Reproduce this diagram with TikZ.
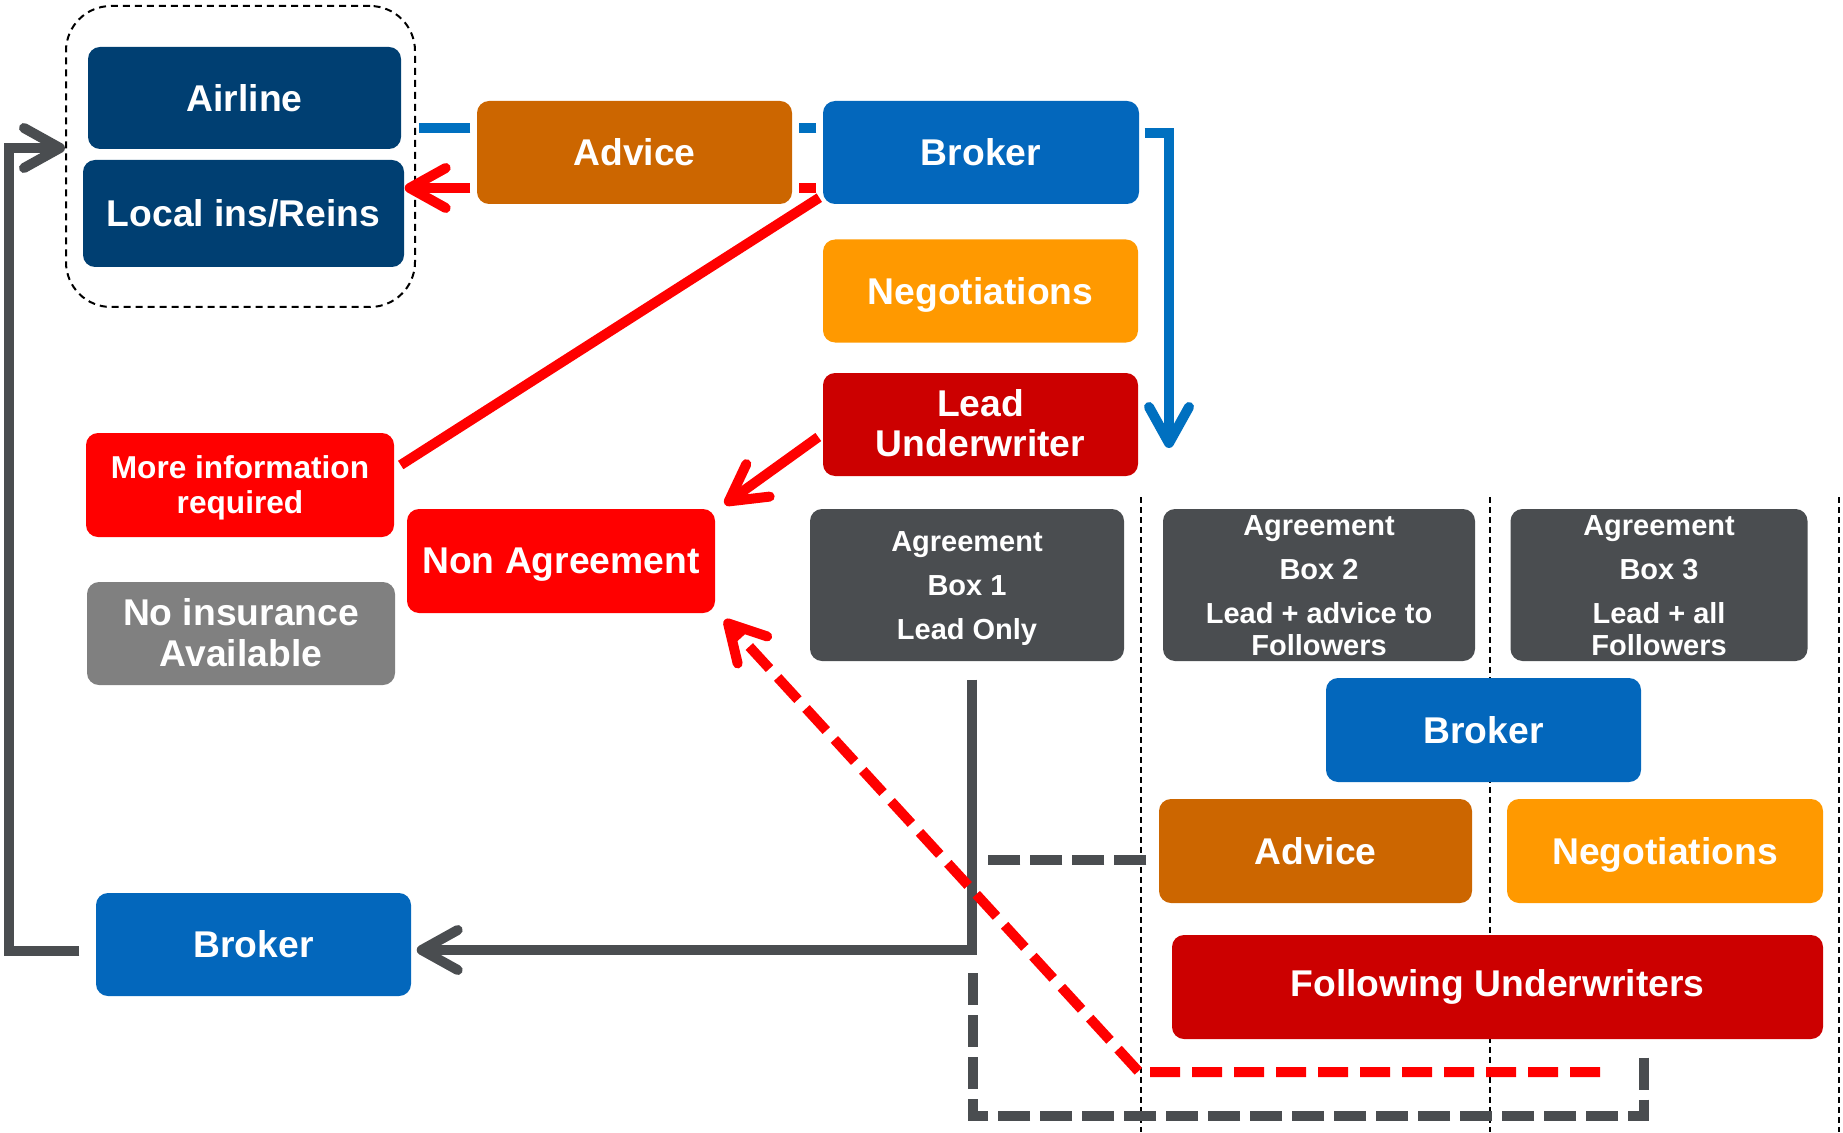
\documentclass[tikz,border=0pt]{standalone}
\usepackage{fontspec}
\setmainfont{Liberation Sans}
\usetikzlibrary{arrows.meta}

\definecolor{navy}{RGB}{0,63,114}
\definecolor{brokerblue}{RGB}{3,103,188}
\definecolor{lineblue}{RGB}{0,112,192}
\definecolor{advicebrown}{RGB}{204,102,0}
\definecolor{negoorange}{RGB}{255,153,0}
\definecolor{leadred}{RGB}{204,0,0}
\definecolor{alertred}{RGB}{255,0,0}
\definecolor{slate}{RGB}{74,77,80}
\definecolor{midgray}{RGB}{128,128,128}

\newcommand{\stacked}[1]{\raisebox{-1.2pt}[\height][\depth]{\begin{tabular}{c}#1\end{tabular}}}

\tikzset{
	box/.style={rounded corners=0.12cm, text=white, inner sep=0pt, minimum width=3.15cm, minimum height=1.03cm, font=\bfseries\fontsize{10.6}{11.4}\selectfont},
	agreebox/.style={box, fill=slate, minimum width=3.14cm, minimum height=1.52cm, font=\bfseries\fontsize{8.25}{9.1}\selectfont},
	separator/.style={draw=black, line width=0.02cm, dash pattern=on 0.06cm off 0.04cm},
	groupline/.style={draw=black, line width=0.02cm, dash pattern=on 0.07cm off 0.05cm},
	blueflow/.style={draw=lineblue, line width=0.1cm},
	redflow/.style={draw=alertred, line width=0.1cm},
	grayflow/.style={draw=slate, line width=0.1cm},
	reddash/.style={redflow, dash pattern=on 0.3cm off 0.12cm},
	graydash/.style={grayflow, dash pattern=on 0.32cm off 0.1cm}
}

\begin{document}
\begin{tikzpicture}[>={Straight Barb[length=0.36cm,width=0.4cm,round]}]
		\useasboundingbox (0,0) rectangle (18.43,-11.32);
		
		\draw[separator] (11.41,-4.97) -- (11.41,-11.32);
		\draw[separator] (14.90,-4.97) -- (14.90,-11.32);
		\draw[separator] (18.39,-4.97) -- (18.39,-11.32);
		
		\node[groupline, rounded corners=0.45cm, minimum width=3.49cm, minimum height=3.01cm] (client) at (2.405,-1.565) {};
		\node[box, fill=navy, minimum width=3.13cm, minimum height=1.02cm] (airline) at (2.445,-0.98) {Airline};
		\node[box, fill=navy, minimum width=3.21cm, minimum height=1.07cm] (localins) at (2.435,-2.135) {Local ins/Reins};
		
		\node[box, fill=advicebrown] (advicetop) at (6.345,-1.525) {Advice};
		\node[box, fill=brokerblue, minimum width=3.16cm] (brokertop) at (9.81,-1.525) {Broker};
		\node[box, fill=negoorange, text depth=0pt] (negotop) at (9.805,-2.91) {Negotiations};
		\node[box, fill=leadred] (lead) at (9.805,-4.245) {\stacked{Lead\\Underwriter}};
		
		\node[box, fill=alertred, minimum width=3.08cm, minimum height=1.04cm, font=\bfseries\fontsize{9}{9.7}\selectfont] (moreinfo) at (2.40,-4.85) {\stacked{More information\\required}};
		\node[box, fill=alertred, minimum width=3.08cm, minimum height=1.04cm, text depth=0pt] (nonagree) at (5.61,-5.61) {Non Agreement};
		\node[box, fill=midgray, minimum width=3.08cm, font=\bfseries\fontsize{10.6}{11.7}\selectfont] (noins) at (2.41,-6.335) {\stacked{No insurance\\Available}};
		
		\node[agreebox] (boxone) at (9.67,-5.85) {\stacked{Agreement\\[3.4pt]Box 1\\[3.4pt]Lead Only}};
		\node[agreebox, minimum width=3.12cm] (boxtwo) at (13.19,-5.85) {\stacked{Agreement\\[3.4pt]Box 2\\[3.4pt]Lead + advice to\\Followers}};
		\node[agreebox, minimum width=2.97cm] (boxthree) at (16.59,-5.85) {\stacked{Agreement\\[3.4pt]Box 3\\[3.4pt]Lead + all\\Followers}};
		
		\node[box, fill=brokerblue, minimum height=1.04cm] (brokermid) at (14.835,-7.30) {Broker};
		\node[box, fill=advicebrown, minimum width=3.13cm, minimum height=1.04cm] (advicelow) at (13.155,-8.51) {Advice};
		\node[box, fill=negoorange, minimum width=3.16cm, minimum height=1.04cm, text depth=0pt] (negolow) at (16.65,-8.51) {Negotiations};
		\node[box, fill=leadred, minimum width=6.51cm, minimum height=1.04cm] (followers) at (14.975,-9.87) {Following Underwriters};
		
		\node[box, fill=brokerblue] (brokerlow) at (2.535,-9.445) {Broker};
		
		\coordinate (brokerdown) at (11.69,-4.48);
		\coordinate (redback) at (16.00,-10.72);
		
		\draw[blueflow] ([shift={(-0.06,0.245)}]brokertop.west) -- ([shift={(0.06,0.245)}]advicetop.east);
		\draw[blueflow] ([shift={(-0.06,0.245)}]advicetop.west) -- ([shift={(0.03,0.285)}]client.east);
		\draw[redflow] ([shift={(-0.06,-0.355)}]brokertop.west) -- ([shift={(0.06,-0.355)}]advicetop.east);
		\draw[redflow,->] ([shift={(-0.06,-0.355)}]advicetop.west) -- ([yshift=0.255cm]localins.east);
		\draw[blueflow,->] ([shift={(0.05,0.195)}]brokertop.east) -| (brokerdown);
		
		\draw[redflow] ([shift={(-0.03,0.07)}]brokertop.south west) -- ([shift={(0.06,0.2)}]moreinfo.east);
		\draw[redflow,->] ([shift={(-0.04,-0.125)}]lead.west) -- ([shift={(0.09,0.04)}]nonagree.north east);
		
		\draw[grayflow,->] ([shift={(0.05,-0.18)}]boxone.south) |- ([shift={(0.05,-0.055)}]brokerlow.east);
		\draw[grayflow,->] ([shift={(-0.16,-0.065)}]brokerlow.west) -| ([shift={(-0.56,0.085)}]client.west) -- ([yshift=0.085cm]client.west);
		\draw[graydash] ([shift={(-0.12,-0.09)}]advicelow.west) -- ++(-1.60,0);
		\draw[graydash] ([shift={(1.465,-0.18)}]followers.south) -- ++(0,-0.58) -- ++(-6.71,0) -- ++(0,1.50);
		
		\draw[reddash,->] (redback) -- (11.39,-10.72) -- ([shift={(0.09,-0.06)}]nonagree.south east);
	\end{tikzpicture}
\end{document}
